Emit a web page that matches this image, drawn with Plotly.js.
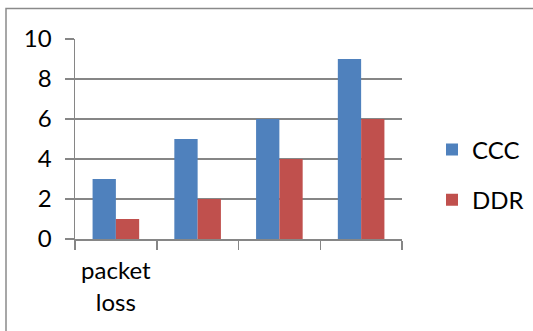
<!DOCTYPE html>
<html>
<head>
<meta charset="utf-8">
<script src="https://cdn.plot.ly/plotly-3.0.1.min.js"></script>
<style>html,body{margin:0;padding:0;background:#fff;}</style>
</head>
<body>
<div id="chart" style="width:533px;height:331px;"></div>
<script>
const categories = ["packet loss", "c2", "c3", "c4"];
const tickLabels = ["packet<br>loss", "", "", ""];
const cccValues = [3, 5, 6, 9];
const ddrValues = [1, 2, 4, 6];
const yTicks = [0, 2, 4, 6, 8, 10];

const W = 533, H = 331;
const L = 75, R = 131, T = 39, B = 92;
const pw = W - L - R, ph = H - T - B;
const px = v => (v - L) / pw;
const py = v => (H - B - v) / ph;

const font = {family: "Lato, 'Open Sans', sans-serif", size: 24, color: "#000"};

const data = [
  {type: "bar", name: "CCC", x: categories, y: cccValues, marker: {color: "#4F81BD"}, legendgroup: "a"},
  {type: "bar", name: "DDR", x: categories, y: ddrValues, marker: {color: "#C0504D"}, legendgroup: "b"}
];

const layout = {
  width: W, height: H,
  margin: {l: L, r: R, t: T, b: B, pad: 0, autoexpand: false},
  paper_bgcolor: "#fff", plot_bgcolor: "#fff",
  font: font,
  barmode: "group",
  bargap: 0.43, bargroupgap: 0,
  showlegend: true,
  legend: {xref: "container", yref: "container", x: 432 / W, xanchor: "left",
           y: 1 - 175 / H, yanchor: "middle", font: font, itemwidth: 30,
           traceorder: "grouped", tracegroupgap: 16, bgcolor: "rgba(0,0,0,0)"},
  xaxis: {
    type: "category", tickmode: "array", tickvals: categories, ticktext: tickLabels,
    tickson: "boundaries", ticks: "outside", ticklen: 9, tickcolor: "#868686", tickwidth: 1.5,
    showline: true, linecolor: "#868686", linewidth: 1.5, showgrid: false,
    tickfont: font, tickangle: 0, fixedrange: true, ticklabelstandoff: 10
  },
  yaxis: {
    range: [0, 10], tickvals: yTicks, ticks: "outside", ticklen: 9, tickcolor: "#868686", tickwidth: 1.5,
    showline: true, linecolor: "#868686", linewidth: 1.5,
    showgrid: true, gridcolor: "#868686", gridwidth: 1.5, zeroline: false,
    tickfont: font, fixedrange: true, ticklabelstandoff: 8
  },
  shapes: [{
    type: "rect", xref: "paper", yref: "paper",
    x0: px(6), x1: px(560), y0: py(360), y1: py(8.5),
    line: {color: "#8a8a8a", width: 1.5}, fillcolor: "rgba(0,0,0,0)", layer: "below"
  }]
};

Plotly.newPlot("chart", data, layout, {staticPlot: true, displayModeBar: false});
</script>
</body>
</html>
